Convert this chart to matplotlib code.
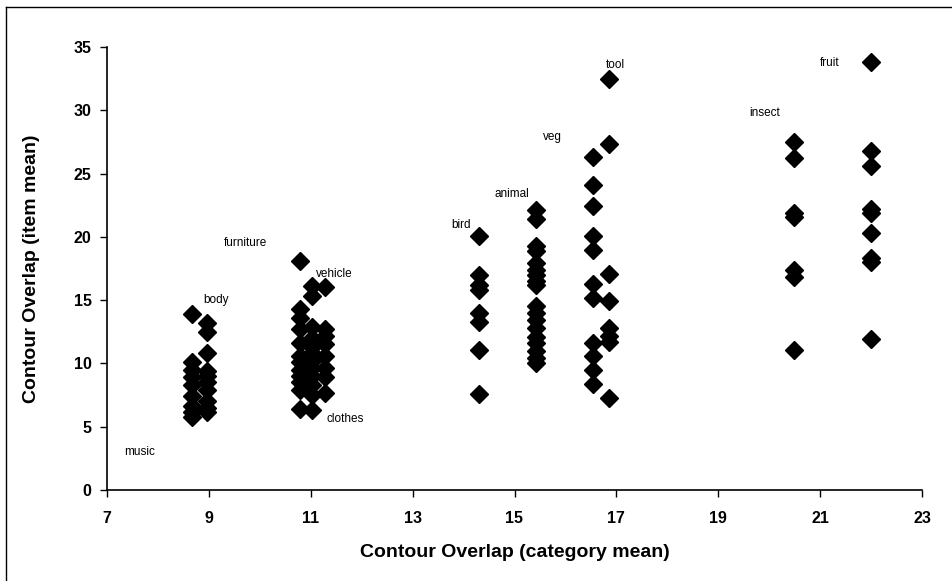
import matplotlib

matplotlib.use("Agg")
import matplotlib.pyplot as plt
from matplotlib.lines import Line2D

# category mean (x) for each category column
categories = ["music", "body", "furniture", "vehicle", "clothes", "bird",
              "animal", "veg", "tool", "insect", "fruit"]
cat_means = [8.67, 8.97, 10.78, 11.02, 11.28, 14.3, 15.42, 16.55, 16.86, 20.48, 21.99]

# item means (y) per category
music = [13.9, 10.1, 9.5, 8.9, 8.3, 7.4, 6.6, 6.2, 5.8]
body = [13.2, 12.5, 10.8, 9.4, 9.0, 8.5, 7.9, 7.0, 6.5, 6.2]
furniture = [18.1, 14.3, 13.6, 12.7, 11.6, 10.6, 10.1, 9.5, 9.0, 8.5, 7.9, 6.4]
vehicle = [16.1, 15.3, 12.9, 12.0, 11.3, 10.8, 10.2, 9.6, 9.0, 8.3, 7.5, 6.3]
clothes = [16.0, 12.7, 12.2, 11.5, 10.6, 9.6, 8.9, 7.7]
bird = [20.1, 17.0, 16.2, 15.8, 14.0, 13.3, 11.1, 7.6]
animal = [22.1, 21.4, 19.3, 18.9, 17.9, 17.4, 17.0, 16.5, 16.2, 14.5, 14.0,
          13.4, 12.8, 12.1, 11.6, 11.0, 10.4, 10.0]
veg = [26.3, 24.1, 22.4, 20.1, 19.0, 16.3, 15.2, 11.6, 10.6, 9.5, 8.4]
tool = [32.5, 27.3, 17.1, 14.9, 12.8, 12.2, 11.7, 7.3]
insect = [27.5, 26.2, 21.9, 21.6, 17.4, 16.8, 11.1]
fruit = [33.8, 26.8, 25.6, 22.2, 21.9, 20.3, 18.3, 18.0, 11.9]
item_means = [music, body, furniture, vehicle, clothes, bird, animal, veg, tool, insect, fruit]

# where each category name is written (data coords)
label_x = [7.33, 8.9, 9.3, 11.1, 11.3, 13.75, 14.6, 15.55, 16.8, 19.6, 21.0]
label_y = [3.0, 15.0, 19.5, 17.1, 5.6, 20.9, 23.4, 27.9, 33.6, 29.8, 33.7]

xticks = [7, 9, 11, 13, 15, 17, 19, 21, 23]
yticks = [0, 5, 10, 15, 20, 25, 30, 35]

plt.rcParams["font.family"] = ["Liberation Sans", "DejaVu Sans"]

fig = plt.figure(figsize=(9.53, 5.81), dpi=100)
ax = fig.add_axes([107 / 953, 91 / 581, 815 / 953, 443 / 581])

for xm, ys in zip(cat_means, item_means):
    ax.plot([xm] * len(ys), ys, linestyle="none", marker="D", ms=9,
            color="black", markeredgecolor="black")

for name, lx, ly in zip(categories, label_x, label_y):
    ax.text(lx, ly, name, fontsize=8.5, ha="left", va="center")

ax.set_xlim(7, 23)
ax.set_ylim(0, 35)
ax.set_xticks(xticks)
ax.set_yticks(yticks)
ax.tick_params(axis="both", direction="out", length=5, width=1, labelsize=11.5)
ax.tick_params(axis="x", pad=10)
ax.tick_params(axis="y", pad=6)
for lbl in ax.get_xticklabels() + ax.get_yticklabels():
    lbl.set_fontweight("bold")
for side in ("top", "right"):
    ax.spines[side].set_visible(False)
for side in ("left", "bottom"):
    ax.spines[side].set_linewidth(1.2)

ax.set_xlabel("Contour Overlap (category mean)", fontsize=14, fontweight="bold", labelpad=13)
ax.set_ylabel("Contour Overlap (item mean)", fontsize=14, fontweight="bold", labelpad=24)

# page frame (left and top edges only)
fig.add_artist(Line2D([6 / 953, 6 / 953], [0, 1 - 7 / 581], transform=fig.transFigure,
                      color="black", lw=1))
fig.add_artist(Line2D([6 / 953, 1], [1 - 7 / 581, 1 - 7 / 581], transform=fig.transFigure,
                      color="black", lw=1))

fig.savefig("out.png", dpi=100)
